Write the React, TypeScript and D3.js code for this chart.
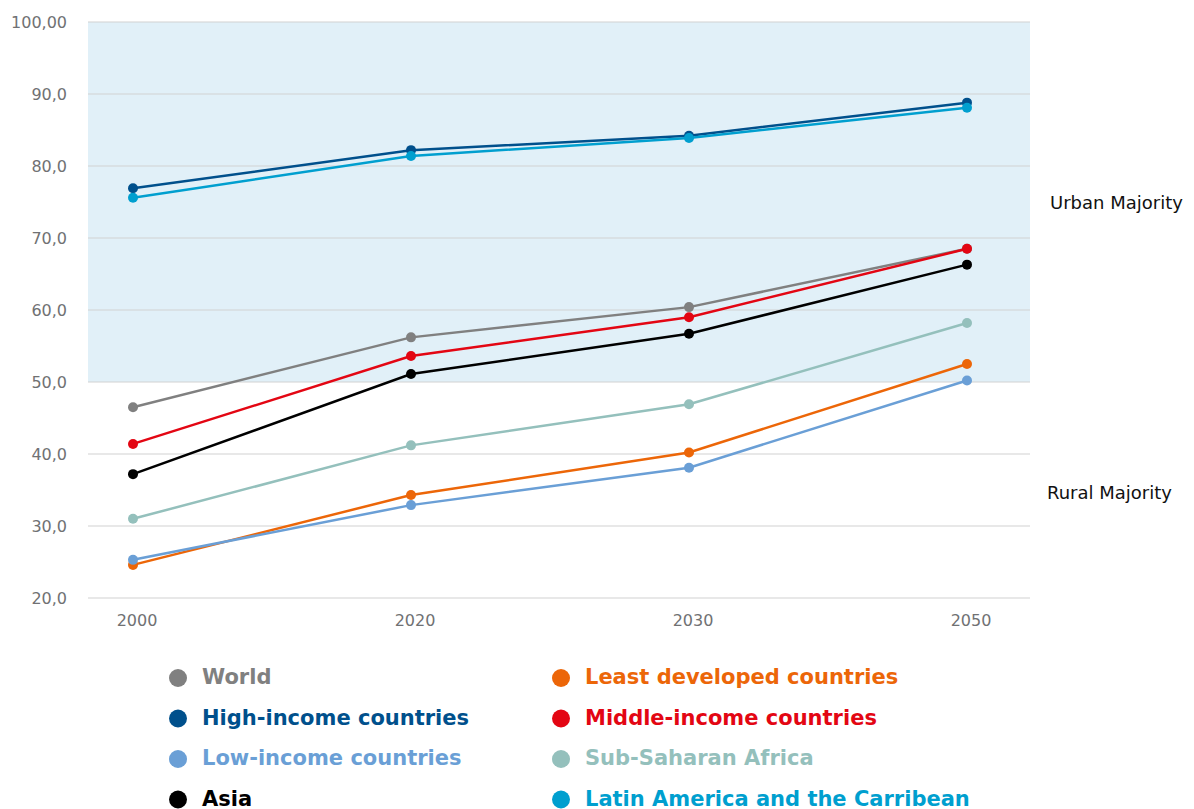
import React from "react";
import * as d3 from "d3";

const years = ["2000", "2020", "2030", "2050"];
const yTicks = [20, 30, 40, 50, 60, 70, 80, 90, 100];

const world = [46.5, 56.2, 60.4, 68.5];
const highIncome = [76.9, 82.2, 84.2, 88.8];
const lowIncome = [25.3, 32.9, 38.1, 50.2];
const asia = [37.2, 51.1, 56.7, 66.3];
const leastDeveloped = [24.6, 34.3, 40.2, 52.5];
const middleIncome = [41.4, 53.6, 59.0, 68.5];
const subSaharan = [31.0, 41.2, 46.9, 58.2];
const latinAmerica = [75.6, 81.4, 83.9, 88.1];

const series = [
  { name: "World", values: world, color: "#808080" },
  { name: "High-income countries", values: highIncome, color: "#00508c" },
  { name: "Low-income countries", values: lowIncome, color: "#6a9fd6" },
  { name: "Asia", values: asia, color: "#000000" },
  { name: "Least developed countries", values: leastDeveloped, color: "#ec6608" },
  { name: "Middle-income countries", values: middleIncome, color: "#e30613" },
  { name: "Sub-Saharan Africa", values: subSaharan, color: "#94c0bc" },
  { name: "Latin America and the Carribean", values: latinAmerica, color: "#009fcf" },
];

const drawOrder = [6, 4, 2, 0, 5, 3, 1, 7];

export default function App() {
  const W = 1194, H = 809;
  const left = 88, right = 1030, top = 22, bottom = 598;
  const x = d3.scalePoint<string>().domain(years).range([133, 967]);
  const y = d3.scaleLinear().domain([20, 100]).range([bottom, top]);
  const line = d3
    .line<number>()
    .x((_, i) => x(years[i]) as number)
    .y((d) => y(d));
  const font = "'DejaVu Sans', 'Open Sans', sans-serif";
  return (
    <svg width={W} height={H} style={{ position: "absolute", left: 0, top: 0 }} fontFamily={font}>
      <rect x={left} y={y(100)} width={right - left} height={y(50) - y(100)} fill="#e1f0f8" />
      {yTicks.map((t) => (
        <g key={t}>
          <line x1={left} x2={right} y1={y(t)} y2={y(t)} stroke="#d2d2d2" strokeWidth={1.2} />
          <text x={67} y={y(t)} dy="0.35em" textAnchor="end" fontSize={16} fill="#707173">
            {t === 100 ? "100,00" : t.toFixed(1).replace(".", ",")}
          </text>
        </g>
      ))}
      {years.map((yr) => (
        <text key={yr} x={x(yr) + 4} y={620} dy="0.35em" textAnchor="middle" fontSize={16} fill="#707173">
          {yr}
        </text>
      ))}
      {drawOrder.map((i) => {
        const s = series[i];
        return (
          <g key={s.name}>
            <path d={line(s.values) || ""} fill="none" stroke={s.color} strokeWidth={2.5} />
            {s.values.map((v, j) => (
              <circle key={j} cx={x(years[j])} cy={y(v)} r={5} fill={s.color} />
            ))}
          </g>
        );
      })}
      <text x={1050} y={203} dy="0.35em" fontSize={18} fill="#111">Urban Majority</text>
      <text x={1047} y={493} dy="0.35em" fontSize={18} fill="#111">Rural Majority</text>
      {series.map((s, i) => {
        const col = Math.floor(i / 4);
        const row = i % 4;
        const cx = col === 0 ? 178 : 561;
        const cy = 677 + row * 40.5;
        return (
          <g key={s.name}>
            <circle cx={cx} cy={cy + 1} r={9} fill={s.color} />
            <text x={cx + 24} y={cy} dy="0.35em" fontSize={21} fontWeight={700} fill={s.color}>
              {s.name}
            </text>
          </g>
        );
      })}
    </svg>
  );
}
